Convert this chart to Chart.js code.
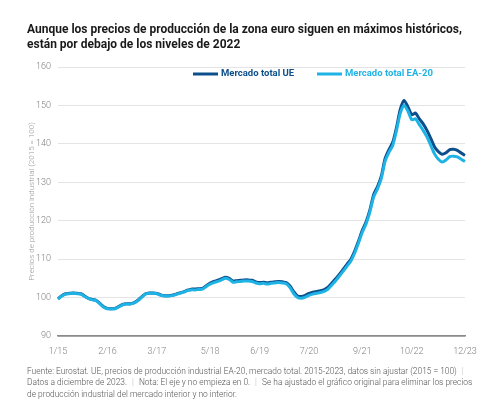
<!DOCTYPE html>
<html>
<head>
<meta charset="utf-8">
<script src="https://cdn.jsdelivr.net/npm/chart.js@4"></script>
<style>
  html, body { margin: 0; padding: 0; background: #fff; }
  #wrap { position: relative; width: 488px; height: 400px; overflow: hidden; }
  #chart { position: absolute; left: 0; top: 0; }
  #title {
    position: absolute; left: 27px; top: 22px; width: 460px;
    font-family: Roboto, "Liberation Sans", sans-serif; font-weight: bold;
    font-size: 12px; line-height: 15px; color: #1a1a1a;
  }
  #note {
    position: absolute; left: 27px; top: 366px; width: 460px;
    font-family: Roboto, "Liberation Sans", sans-serif; font-weight: 300;
    font-size: 8.4px; line-height: 11.3px; color: #555; white-space: nowrap;
  }
  #note .sep { color: #bbb; padding: 0 3px; }
</style>
</head>
<body>
<div id="wrap">
  <canvas id="chart" width="488" height="400"></canvas>
  <div id="title">Aunque los precios de producción de la zona euro siguen en máximos históricos,<br>están por debajo de los niveles de 2022</div>
  <div id="note">Fuente: Eurostat. UE, precios de producción industrial EA-20, mercado total. 2015-2023, datos sin ajustar (2015 = 100) <span class="sep">|</span><br>Datos a diciembre de 2023. <span class="sep">|</span> Nota: El eje y no empieza en 0. <span class="sep">|</span> Se ha ajustado el gráfico original para eliminar los precios<br>de producción industrial del mercado interior y no interior.</div>
</div>
<script>
// ============================================================================
// DATA
// ============================================================================

// monthly categories 1/15 .. 12/23
const months = [];
for (let y = 15; y <= 23; y++) {
    for (let m = 1; m <= 12; m++) months.push(m + '/' + y);
}

const tickLabels = ['1/15', '2/16', '3/17', '5/18', '6/19', '7/20', '9/21', '10/22', '12/23'];
const yTicks = [90, 100, 110, 120, 130, 140, 150, 160];

const seriesNames = ['Mercado total UE', 'Mercado total EA-20'];
const seriesColors = ['#0d4f8b', '#1fb3e5'];

const ueValues = [
    99.7, 100.5, 101.0, 101.1, 101.2, 101.1, 101.0, 100.4, 99.8, 99.5, 99.3, 98.5,
    97.6, 97.2, 97.1, 97.2, 97.7, 98.2, 98.4, 98.4, 98.7, 99.3, 100.2, 101.0,
    101.2, 101.2, 101.1, 100.7, 100.5, 100.5, 100.6, 100.9, 101.2, 101.5, 101.9, 102.2,
    102.2, 102.3, 102.4, 103.1, 103.8, 104.2, 104.5, 104.9, 105.3, 105.0, 104.3, 104.4,
    104.5, 104.6, 104.6, 104.5, 104.1, 103.9, 104.0, 103.8, 104.0, 104.1, 104.2, 104.1,
    103.9, 103.0, 101.5, 100.4, 100.3, 100.6, 101.1, 101.4, 101.6, 101.8, 102.1, 102.7,
    103.8, 104.9, 106.1, 107.4, 108.7, 110.0, 112.1, 114.7, 117.5, 119.7, 122.8, 126.8,
    128.9, 131.6, 136.2, 138.5, 140.4, 144.3, 149.0, 151.3, 149.6, 147.6, 148.0, 146.5,
    145.2, 143.5, 141.4, 139.2, 138.0, 137.3, 137.7, 138.5, 138.6, 138.3, 137.6, 137.0
];

const eaValues = [
    99.6, 100.4, 100.9, 101.0, 101.1, 101.0, 100.9, 100.3, 99.7, 99.4, 99.2, 98.4,
    97.5, 97.1, 97.0, 97.1, 97.6, 98.1, 98.3, 98.3, 98.6, 99.2, 100.1, 100.9,
    101.1, 101.1, 101.0, 100.6, 100.4, 100.4, 100.5, 100.8, 101.1, 101.4, 101.8, 102.0,
    102.0, 102.1, 102.2, 102.9, 103.5, 103.9, 104.2, 104.6, 105.0, 104.7, 104.0, 104.1,
    104.2, 104.3, 104.3, 104.2, 103.8, 103.6, 103.7, 103.5, 103.7, 103.8, 103.9, 103.8,
    103.6, 102.6, 101.0, 100.0, 99.8, 100.1, 100.6, 100.9, 101.1, 101.3, 101.6, 102.2,
    103.3, 104.4, 105.6, 106.9, 108.2, 109.5, 111.6, 114.2, 117.0, 119.2, 122.3, 126.2,
    128.3, 131.0, 135.5, 137.8, 139.6, 143.5, 148.0, 150.0, 148.5, 146.3, 146.5, 145.0,
    143.5, 141.8, 139.6, 137.4, 136.0, 135.3, 135.8, 136.7, 136.8, 136.6, 136.0, 135.4
];

// ============================================================================
// LEGEND (drawn inside the plot, top right)
// ============================================================================

const insideLegend = {
    id: 'insideLegend',
    afterDraw(chart) {
        const ctx = chart.ctx;
        const y = 74;
        const starts = [193, 317];
        ctx.save();
        ctx.font = 'bold 9.5px Roboto, "Liberation Sans", sans-serif';
        ctx.textBaseline = 'middle';
        chart.data.datasets.forEach((ds, i) => {
            const x = starts[i];
            ctx.strokeStyle = ds.borderColor;
            ctx.lineWidth = 3;
            ctx.beginPath();
            ctx.moveTo(x, y);
            ctx.lineTo(x + 25, y);
            ctx.stroke();
            ctx.fillStyle = ds.borderColor;
            ctx.fillText(ds.label, x + 28, y);
        });
        ctx.restore();
    }
};

// ============================================================================
// CHART
// ============================================================================

const ctx = document.getElementById('chart').getContext('2d');
new Chart(ctx, {
    type: 'line',
    data: {
        labels: months,
        datasets: [
            {
                label: seriesNames[0],
                data: ueValues,
                borderColor: seriesColors[0],
                borderWidth: 3,
                pointRadius: 0,
                tension: 0.25,
                order: 2
            },
            {
                label: seriesNames[1],
                data: eaValues,
                borderColor: seriesColors[1],
                borderWidth: 3,
                pointRadius: 0,
                tension: 0.25,
                order: 1
            }
        ]
    },
    options: {
        responsive: false,
        animation: false,
        layout: { padding: { top: 67, right: 23, bottom: 44, left: 0 } },
        plugins: {
            legend: { display: false },
            tooltip: { enabled: false }
        },
        scales: {
            x: {
                grid: { display: false },
                border: { display: true, color: '#8a8a8a', width: 1.5 },
                afterFit(scale) { scale.height = 20; },
                ticks: {
                    autoSkip: false,
                    maxRotation: 0,
                    padding: 2,
                    color: '#808080',
                    font: { family: 'Roboto, "Liberation Sans", sans-serif', size: 9, weight: '300' },
                    callback(value) {
                        const lab = this.getLabelForValue(value);
                        return tickLabels.includes(lab) ? lab : null;
                    }
                }
            },
            y: {
                min: 90,
                max: 160,
                afterFit(scale) { scale.width = 58; },
                afterBuildTicks(scale) { scale.ticks = yTicks.map(v => ({ value: v })); },
                border: { display: false },
                grid: {
                    drawTicks: false,
                    color: c => c.tick && c.tick.value === 90 ? '#8a8a8a' : '#e4e4e4',
                    lineWidth: c => c.tick && c.tick.value === 90 ? 1.5 : 1
                },
                ticks: {
                    padding: 7,
                    color: '#808080',
                    font: { family: 'Roboto, "Liberation Sans", sans-serif', size: 9, weight: '300' }
                },
                title: {
                    display: true,
                    text: 'Precios de producción industrial (2015 = 100)',
                    color: '#999999',
                    padding: { top: 27, bottom: 0 },
                    font: { family: 'Roboto, "Liberation Sans", sans-serif', size: 8, weight: '300' }
                }
            }
        }
    },
    plugins: [insideLegend]
});
</script>
</body>
</html>
